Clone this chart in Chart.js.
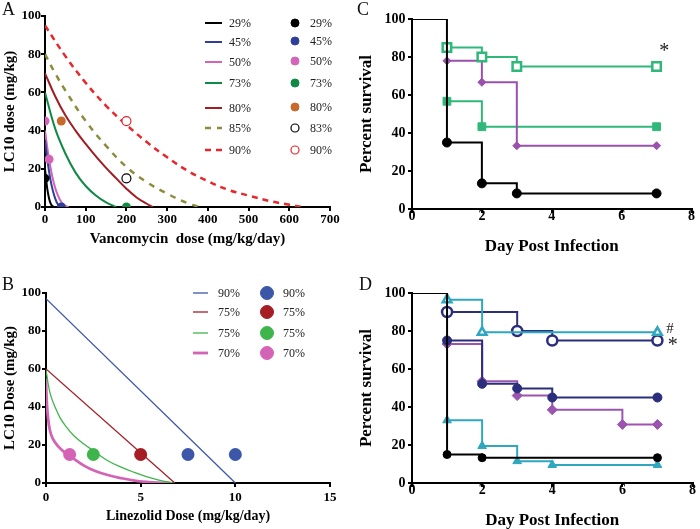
<!DOCTYPE html>
<html>
<head>
<meta charset="utf-8">
<script src="https://cdn.jsdelivr.net/npm/chart.js@4"></script>
<style>
  body { margin: 0; background: #fff; }
  #wrap { position: relative; width: 700px; height: 529px; overflow: hidden; font-family: 'Liberation Serif', serif; }
  canvas { position: absolute; }
  .lbl { position: absolute; font-size: 18px; line-height: 1; color: #111; }
</style>
</head>
<body>
<div id="wrap">
  <canvas id="chartA" width="350" height="260" style="left:0;top:0"></canvas>
  <canvas id="chartB" width="350" height="269" style="left:0;top:260px"></canvas>
  <canvas id="chartC" width="350" height="260" style="left:350px;top:0"></canvas>
  <canvas id="chartD" width="350" height="269" style="left:350px;top:260px"></canvas>
  <div class="lbl" style="left:2px;top:0px">A</div>
  <div class="lbl" style="left:2px;top:275px">B</div>
  <div class="lbl" style="left:357px;top:0px">C</div>
  <div class="lbl" style="left:359px;top:275px">D</div>
</div>
<script>
// ---- Panel A: vancomycin isobolograms (x = vancomycin dose, y = LC10 dose)
const vanco29 = [[0, 20], [3, 14], [6, 9], [10, 4.5], [14, 1.8], [18, 0.5], [22, 0]];
const vanco45 = [[0, 35], [5, 26], [10, 18.5], [15, 12.5], [20, 8], [25, 4.5], [30, 2], [36, 0.5], [42, 0]];
const vanco50 = [[0, 40], [5, 32], [10, 25], [15, 19], [20, 14], [25, 10], [30, 7], [40, 2.6], [50, 0.6], [58, 0]];
const vanco73 = [[0, 60], [25, 41], [50, 28], [75, 18], [100, 11], [125, 6], [150, 2.4], [175, 0]];
const vanco80 = [[0, 70], [25, 58], [50, 48], [75, 40], [100, 33], [125, 26.5], [150, 20.5], [175, 15], [200, 9.6], [225, 5], [250, 1.7], [265, 0]];
const vanco85 = [[0, 80], [25, 70], [50, 61], [100, 45], [150, 32], [200, 21], [250, 13], [300, 7], [350, 2], [380, 0]];
const vanco90 = [[0, 95], [50, 79], [100, 65], [150, 53], [200, 43], [250, 34], [300, 26], [350, 19], [400, 13.5], [450, 9], [500, 6], [550, 3.2], [600, 1.2], [630, 0]];
const vancoObs29 = [[0, 15]];
const vancoObs45 = [[40, 0]];
const vancoObs50 = [[0, 45], [10, 25]];
const vancoObs73 = [[200, 0]];
const vancoObs80 = [[40, 45]];
const vancoObs83 = [[200, 15]];
const vancoObs90 = [[200, 45]];
const vancoLabels = ['29%', '45%', '50%', '73%', '80%', '85%', '90%'];
const vancoObsLabels = ['29%', '45%', '50%', '73%', '80%', '83%', '90%'];

// ---- Panel B: linezolid isobolograms
const line90 = [[0, 97], [10, 0]];
const line75a = [[0, 60], [6.8, 0]];
const line75b = [[0, 60], [0.1, 53], [0.25, 46], [0.5, 39.5], [0.76, 34], [1, 30.5], [1.46, 25], [2, 20.5], [2.5, 17], [3.22, 12], [4, 8.2], [4.63, 5.7], [5.3, 3.4], [5.86, 1.8], [6.4, 0.6], [6.8, 0]];
const line70 = [[0, 55], [0.03, 45], [0.1, 35], [0.2, 28], [0.35, 23.5], [0.62, 19.5], [1, 16], [1.33, 13.7], [2.03, 9], [2.6, 6.3], [3.26, 4.2], [4, 2.5], [4.67, 1.3], [5.3, 0.6], [5.9, 0.2], [6.5, 0]];
const lineObs90 = [[7.5, 15], [10, 15]];
const lineObs75a = [[5, 15]];
const lineObs75b = [[2.5, 15]];
const lineObs70 = [[1.25, 15]];
const linezolidLabels = ['90%', '75%', '75%', '70%'];

// ---- Panel C: survival curves
const survC_black = [[0, 100], [1, 35], [2, 13.5], [3, 8.2], [7, 8.2]];
const survC_greenOpen = [[1, 85], [2, 80], [3, 75], [7, 75]];
const survC_purple = [[1, 78], [2, 66.7], [3, 33.3], [7, 33.3]];
const survC_greenFilled = [[1, 56.7], [2, 43.3], [7, 43.3]];

// ---- Panel D: survival curves
const survD_black = [[0, 100], [1, 15], [2, 13.3], [7, 13.3]];
const survD_tealOpen = [[1, 96.5], [2, 79.3], [7, 79.3]];
const survD_navyOpen = [[1, 90], [3, 80], [4, 75], [7, 75]];
const survD_navyFilled = [[1, 75], [2, 52.2], [3, 49.8], [4, 45], [7, 45]];
const survD_purple = [[1, 73.2], [2, 53.5], [3, 46], [4, 38.5], [6, 30.8], [7, 30.8]];
const survD_tealFilled = [[1, 33], [2, 19.5], [3, 11.5], [4, 9.5], [7, 9.5]];

Chart.defaults.font.family = "'Liberation Serif', 'Times New Roman', serif";
Chart.defaults.color = '#000';
Chart.defaults.animation = false;

// draws two-column legend (lines / markers) at fixed spots inside the canvas
const sideLegend = {
  id: 'sideLegend',
  afterDraw(chart, args, opts) {
    if (!opts.rows) return;
    const ctx = chart.ctx;
    const ds = chart.data.datasets;
    ctx.save();
    ctx.font = opts.font;
    ctx.textBaseline = 'middle';
    ctx.fillStyle = '#222';
    opts.lines.forEach((i, k) => {
      const d = ds[i], y = opts.rows[k];
      ctx.save();
      ctx.strokeStyle = d.borderColor;
      ctx.lineWidth = d.borderWidth;
      ctx.setLineDash(d.borderDash || []);
      ctx.beginPath();
      ctx.moveTo(opts.lineX[0], y);
      ctx.lineTo(opts.lineX[1], y);
      ctx.stroke();
      ctx.restore();
      ctx.fillText(d.label, opts.lineText, y + 1);
    });
    opts.points.forEach((i, k) => {
      const d = ds[i], y = opts.pointRows[k];
      ctx.save();
      ctx.fillStyle = d.backgroundColor;
      ctx.strokeStyle = d.borderColor;
      ctx.lineWidth = d.pointBorderWidth || 1;
      Chart.helpers.drawPoint(ctx, { pointStyle: 'circle', radius: opts.radius, borderWidth: d.pointBorderWidth || 1, rotation: 0 }, opts.pointX, y);
      ctx.restore();
      ctx.fillText(d.label, opts.pointText, y + 1);
    });
    ctx.restore();
  }
};

// text marks like * and # placed at data coordinates
const marks = {
  id: 'marks',
  afterDraw(chart, args, opts) {
    if (!opts.items) return;
    const ctx = chart.ctx;
    ctx.save();
    ctx.fillStyle = '#222';
    ctx.textAlign = 'center';
    ctx.textBaseline = 'middle';
    opts.items.forEach(m => {
      ctx.font = m.font;
      ctx.fillText(m.text, chart.scales.x.getPixelForValue(m.x), chart.scales.y.getPixelForValue(m.y));
    });
    ctx.restore();
  }
};

function axis(o) {
  return {
    type: 'linear',
    min: o.min, max: o.max,
    ticks: { stepSize: o.step, font: { size: o.tick, weight: 'bold', lineHeight: 1 }, color: '#000', padding: o.pad, maxRotation: 0 },
    grid: { display: true, drawOnChartArea: false, drawTicks: true, tickLength: 4, color: '#000', lineWidth: 2 },
    border: { color: '#000', width: 2 },
    title: { display: true, text: o.title, color: '#000', font: { size: o.ts, weight: 'bold', lineHeight: 1 }, padding: o.tp },
    afterFit: o.fit
  };
}
const fixX = h => s => { s.height = h; s.paddingLeft = 0; s.paddingRight = 0; };
const fixY = w => s => { s.width = w; s.paddingTop = 0; s.paddingBottom = 0; };

function curve(label, data, color, width, dash) {
  return { label, data, showLine: true, borderColor: color, backgroundColor: color, borderWidth: width,
    borderDash: dash, pointRadius: 0, tension: 0.4, order: 2 };
}
function dots(label, data, color, radius, open) {
  return { label, data, showLine: false, borderColor: color, backgroundColor: open ? '#fff' : color,
    pointBackgroundColor: open ? '#fff' : color, pointBorderColor: color,
    pointBorderWidth: open ? 1.2 : 0, pointRadius: radius, order: 1 };
}
function km(data, color, style, radius, open, skipFirst) {
  return { data, showLine: true, stepped: true, borderColor: color, borderWidth: 2,
    pointStyle: style, pointBorderColor: color, pointBackgroundColor: open ? '#fff' : color,
    pointBorderWidth: open ? 2.5 : 1,
    pointRadius: ctx => (skipFirst && ctx.dataIndex === 0 ? 0 : radius) };
}

const base = (pad, scales, plugins) => ({
  responsive: false, devicePixelRatio: 1,
  layout: { padding: pad },
  scales,
  plugins: Object.assign({ legend: { display: false }, tooltip: { enabled: false } }, plugins)
});

// ---------- A
new Chart(document.getElementById('chartA'), {
  type: 'scatter',
  data: {
    datasets: [
      curve(vancoLabels[0], vanco29, '#000000', 2),
      curve(vancoLabels[1], vanco45, '#2d3f99', 2),
      curve(vancoLabels[2], vanco50, '#d464b9', 2),
      curve(vancoLabels[3], vanco73, '#0e8a45', 2),
      curve(vancoLabels[4], vanco80, '#a01d22', 2),
      curve(vancoLabels[5], vanco85, '#8c8c3c', 2.5, [6, 6]),
      curve(vancoLabels[6], vanco90, '#e8262b', 2.5, [6, 5]),
      dots(vancoObsLabels[0], vancoObs29, '#000000', 4.5),
      dots(vancoObsLabels[1], vancoObs45, '#2d3f99', 4.5),
      dots(vancoObsLabels[2], vancoObs50, '#d464b9', 4.5),
      dots(vancoObsLabels[3], vancoObs73, '#0e8a45', 4.5),
      dots(vancoObsLabels[4], vancoObs80, '#c8682a', 4.5),
      dots(vancoObsLabels[5], vancoObs83, '#000000', 4.5, true),
      dots(vancoObsLabels[6], vancoObs90, '#e8262b', 4.5, true)
    ]
  },
  options: base({ left: 0, top: 16, right: 20, bottom: 0 }, {
    x: axis({ min: 0, max: 700, step: 100, tick: 13, pad: 2.5, title: 'Vancomycin  dose (mg/kg/day)', ts: 15, tp: { top: 0, bottom: 13 }, fit: fixX(53) }),
    y: axis({ min: 0, max: 100, step: 20, tick: 13, pad: 0, title: 'LC10 dose (mg/kg)', ts: 15, tp: { top: 2.5, bottom: 0 }, fit: fixY(45) })
  }, {
    sideLegend: { font: '12px "Liberation Serif"', lines: [0, 1, 2, 3, 4, 5, 6], points: [7, 8, 9, 10, 11, 12, 13],
      rows: [23, 42, 62, 83, 108, 128, 150], pointRows: [23, 41, 61, 83, 107, 128, 150],
      lineX: [205, 222], lineText: 229, pointX: 295, pointText: 310, radius: 4 }
  }),
  plugins: [sideLegend]
});

// ---------- B
new Chart(document.getElementById('chartB'), {
  type: 'scatter',
  data: {
    datasets: [
      Object.assign(curve(linezolidLabels[0], line90, '#3c56a8', 1.3), { tension: 0 }),
      Object.assign(curve(linezolidLabels[1], line75a, '#a51d25', 1.3), { tension: 0 }),
      curve(linezolidLabels[2], line75b, '#3db54b', 1.3),
      curve(linezolidLabels[3], line70, '#d463b6', 2.8),
      dots(linezolidLabels[0], lineObs90, '#3c56a8', 6.5),
      dots(linezolidLabels[1], lineObs75a, '#a51d25', 6.5),
      dots(linezolidLabels[2], lineObs75b, '#3db54b', 6.5),
      dots(linezolidLabels[3], lineObs70, '#d463b6', 6.5)
    ]
  },
  options: base({ left: 0, top: 33, right: 20, bottom: 0 }, {
    x: axis({ min: 0, max: 15, step: 5, tick: 13, pad: 4, title: 'Linezolid Dose (mg/kg/day)', ts: 14, tp: { top: 0, bottom: 6 }, fit: fixX(46) }),
    y: axis({ min: 0, max: 100, step: 20, tick: 13, pad: 1, title: 'LC10 Dose (mg/kg)', ts: 15, tp: { top: 2.5, bottom: 0 }, fit: fixY(46) })
  }, {
    sideLegend: { font: '12px "Liberation Serif"', lines: [0, 1, 2, 3], points: [4, 5, 6, 7],
      rows: [33, 52, 73, 93], pointRows: [33, 52, 73, 93],
      lineX: [193, 208], lineText: 218, pointX: 267, pointText: 283, radius: 6.5 }
  }),
  plugins: [sideLegend]
});

// ---------- C
new Chart(document.getElementById('chartC'), {
  type: 'scatter',
  data: {
    datasets: [
      km(survC_black, '#000000', 'circle', 4.5, false, true),
      km(survC_greenOpen, '#2fb879', 'rect', 6, true),
      km(survC_purple, '#9a50ad', 'rectRot', 4, false),
      km(survC_greenFilled, '#2fb879', 'rect', 5.5, false)
    ]
  },
  options: base({ left: 0, top: 19, right: 3, bottom: 0 }, {
    x: axis({ min: 0, max: 8, step: 2, tick: 14, pad: -4, title: 'Day Post Infection', ts: 17, tp: { top: 0, bottom: 4.5 }, fit: fixX(51) }),
    y: axis({ min: 0, max: 100, step: 20, tick: 14, pad: 2.5, title: 'Percent survival', ts: 17, tp: { top: 8.5, bottom: 0 }, fit: fixY(62) })
  }, {
    marks: { items: [{ text: '*', x: 7.22, y: 83, font: '20px "Liberation Serif"' }] }
  }),
  plugins: [marks]
});

// ---------- D
new Chart(document.getElementById('chartD'), {
  type: 'scatter',
  data: {
    datasets: [
      km(survD_black, '#000000', 'circle', 4, false, true),
      km(survD_tealOpen, '#2ea7bf', 'triangle', 5, true),
      km(survD_navyOpen, '#2b2e7c', 'circle', 5, true),
      km(survD_navyFilled, '#2b2e7c', 'circle', 4.5, false),
      km(survD_purple, '#9b55b0', 'rectRot', 5, false),
      km(survD_tealFilled, '#2ea7bf', 'triangle', 5, false)
    ]
  },
  options: base({ left: 0, top: 33, right: 3, bottom: 0 }, {
    x: axis({ min: 0, max: 8, step: 2, tick: 14, pad: -4, title: 'Day Post Infection', ts: 17, tp: { top: 0, bottom: -0.5 }, fit: fixX(46) }),
    y: axis({ min: 0, max: 100, step: 20, tick: 14, pad: 2.5, title: 'Percent survival', ts: 17, tp: { top: 8.5, bottom: 0 }, fit: fixY(62) })
  }, {
    marks: { items: [
      { text: '#', x: 7.36, y: 81, font: '15px "Liberation Serif"' },
      { text: '*', x: 7.44, y: 72, font: '20px "Liberation Serif"' }
    ] }
  }),
  plugins: [marks]
});
</script>
</body>
</html>
